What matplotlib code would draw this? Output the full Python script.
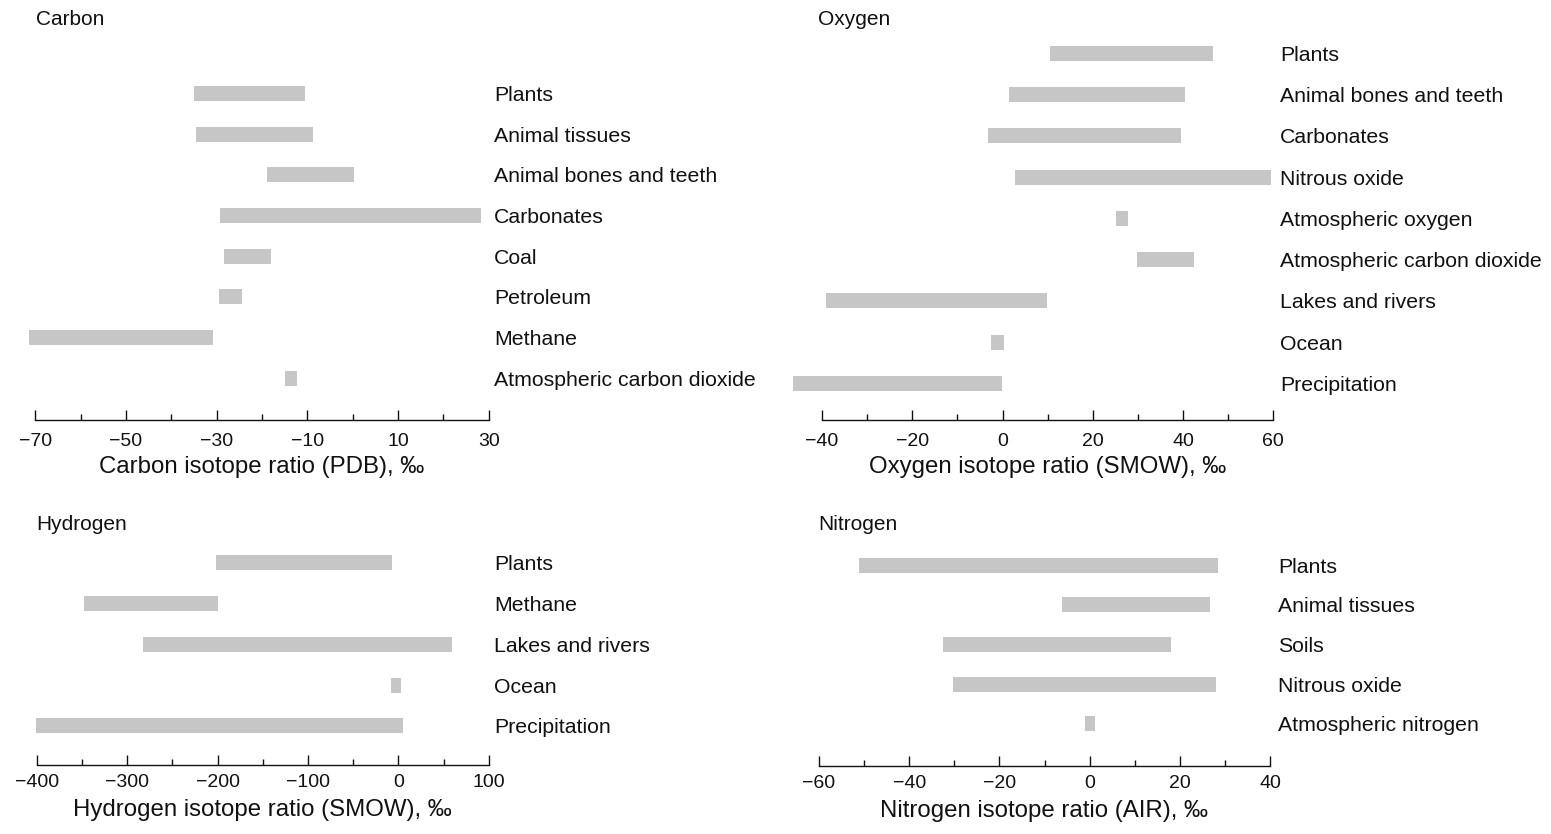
import matplotlib
matplotlib.use("Agg")
import matplotlib.pyplot as plt

plt.rcParams['font.family'] = ['Liberation Sans', 'DejaVu Sans']

# ---------------- data ----------------
carbon_labels = ["Plants", "Animal tissues", "Animal bones and teeth", "Carbonates",
                 "Coal", "Petroleum", "Methane", "Atmospheric carbon dioxide"]
carbon_low = [-35.0, -34.6, -19.0, -29.3, -28.4, -29.5, -71.4, -15.0]
carbon_high = [-10.5, -8.8, 0.2, 28.3, -18.1, -24.4, -30.8, -12.3]
carbon_major = [-70, -50, -30, -10, 10, 30]
carbon_minor = [-60, -40, -20, 0, 20]
carbon_ticklabels = ["\u221270", "\u221250", "\u221230", "\u221210", "10", "30"]

oxygen_labels = ["Plants", "Animal bones and teeth", "Carbonates", "Nitrous oxide",
                 "Atmospheric oxygen", "Atmospheric carbon dioxide", "Lakes and rivers",
                 "Ocean", "Precipitation"]
oxygen_low = [10.5, 1.4, -3.2, 2.8, 25.1, 29.8, -39.1, -2.5, -46.4]
oxygen_high = [46.6, 40.4, 39.6, 59.5, 27.8, 42.4, 9.9, 0.3, -0.1]
oxygen_major = [-40, -20, 0, 20, 40, 60]
oxygen_minor = [-30, -10, 10, 30, 50]
oxygen_ticklabels = ["\u221240", "\u221220", "0", "20", "40", "60"]

hydrogen_labels = ["Plants", "Methane", "Lakes and rivers", "Ocean", "Precipitation"]
hydrogen_low = [-201.7, -347.7, -282.4, -8.0, -401.0]
hydrogen_high = [-7.0, -199.2, 59.4, 3.0, 5.0]
hydrogen_major = [-400, -300, -200, -100, 0, 100]
hydrogen_minor = [-350, -250, -150, -50, 50]
hydrogen_ticklabels = ["\u2212400", "\u2212300", "\u2212200", "\u2212100", "0", "100"]

nitrogen_labels = ["Plants", "Animal tissues", "Soils", "Nitrous oxide", "Atmospheric nitrogen"]
nitrogen_low = [-51.1, -6.1, -32.5, -30.3, -1.0]
nitrogen_high = [28.5, 26.7, 18.1, 28.0, 1.2]
nitrogen_major = [-60, -40, -20, 0, 20, 40]
nitrogen_minor = [-50, -30, -10, 10, 30]
nitrogen_ticklabels = ["\u221260", "\u221240", "\u221220", "0", "20", "40"]

# ---------------- figure ----------------
W, H = 1551, 834
fig = plt.figure(figsize=(W / 100, H / 100), dpi=100)

BAR = "#c6c6c6"
TXT = "#111111"


def panel(left, right, top, axis_y, first, spacing, labels, low, high,
          major, minor, ticklabels, label_off_px, title, title_x, title_y, xlabel,
          tickpad, labelpad):
    ax = fig.add_axes([left / W, (H - axis_y) / H, (right - left) / W, (axis_y - top) / H])
    ax.set_xlim(major[0], major[-1])
    ax.set_ylim((axis_y - first) / spacing, (top - first) / spacing)
    idx = list(range(len(labels)))
    widths = [h - l for l, h in zip(low, high)]
    bars = ax.barh(idx, widths, left=low, height=15 / spacing, color=BAR, linewidth=0)
    for b in bars:
        b.set_clip_on(False)
    for i, lab in enumerate(labels):
        ax.annotate(lab, xy=(1, i), xycoords=('axes fraction', 'data'),
                    xytext=(label_off_px * 0.72, -1.5), textcoords='offset points',
                    ha='left', va='center', fontsize=15.3, color=TXT,
                    annotation_clip=False)
    for s in ['top', 'left', 'right']:
        ax.spines[s].set_visible(False)
    ax.spines['bottom'].set_linewidth(1.0)
    ax.spines['bottom'].set_color(TXT)
    ax.set_yticks([])
    ax.set_xticks(major)
    ax.set_xticklabels(ticklabels)
    ax.set_xticks(minor, minor=True)
    ax.tick_params(axis='x', which='major', direction='in', length=7.2, width=1.0,
                   pad=tickpad, labelsize=14, colors=TXT)
    ax.tick_params(axis='x', which='minor', direction='in', length=4.3, width=1.0,
                   colors=TXT)
    ax.set_xlabel(xlabel, fontsize=17.3, labelpad=labelpad, color=TXT)
    ax.patch.set_visible(False)
    fig.text(title_x / W, 1 - title_y / H, title, ha='left', va='center',
             fontsize=15, color=TXT)
    return ax


panel(35.3, 488.7, 50, 420, 93.3, 40.7, carbon_labels, carbon_low, carbon_high,
      carbon_major, carbon_minor, carbon_ticklabels, 5.3,
      "Carbon", 36, 19.5, "Carbon isotope ratio (PDB), \u2030", 9.5, 4.5)

panel(822, 1273.3, 12, 420, 53.3, 41.25, oxygen_labels, oxygen_low, oxygen_high,
      oxygen_major, oxygen_minor, oxygen_ticklabels, 6.7,
      "Oxygen", 818, 19.5, "Oxygen isotope ratio (SMOW), \u2030", 9.5, 4.5)

panel(36.7, 488.7, 535, 765, 562.3, 40.9, hydrogen_labels, hydrogen_low, hydrogen_high,
      hydrogen_major, hydrogen_minor, hydrogen_ticklabels, 5.3,
      "Hydrogen", 36, 524, "Hydrogen isotope ratio (SMOW), \u2030", 6.7, 5.5)

panel(819, 1270, 535, 765.7, 565, 39.7, nitrogen_labels, nitrogen_low, nitrogen_high,
      nitrogen_major, nitrogen_minor, nitrogen_ticklabels, 8,
      "Nitrogen", 818, 524, "Nitrogen isotope ratio (AIR), \u2030", 6.7, 5.5)

fig.savefig("out.png", dpi=100, facecolor="white")
